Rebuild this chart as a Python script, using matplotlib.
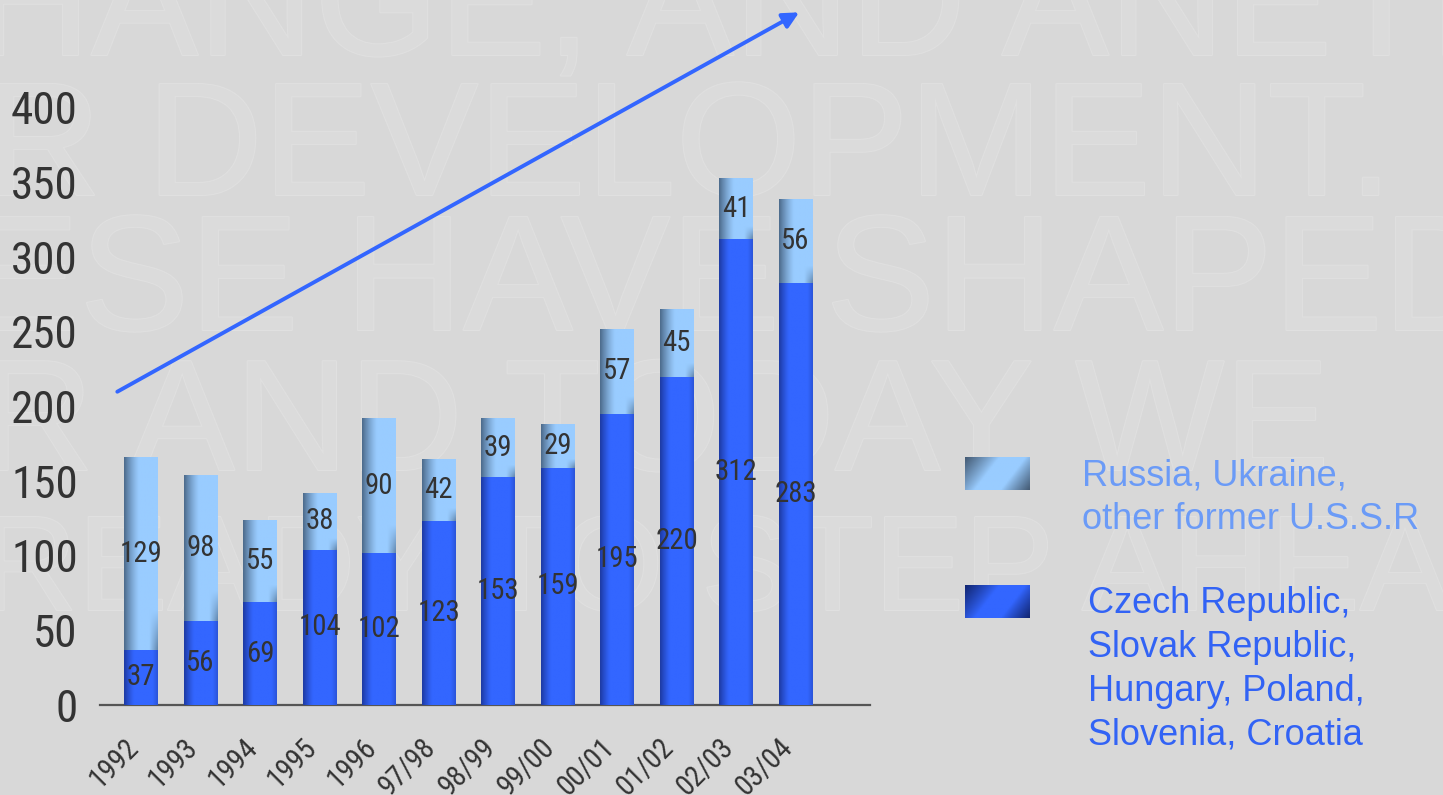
import numpy as np
import matplotlib
matplotlib.use("Agg")
import matplotlib.pyplot as plt
import matplotlib.patheffects as pe
from matplotlib import font_manager
from matplotlib.textpath import TextPath
from matplotlib.font_manager import FontProperties
from matplotlib.transforms import ScaledTranslation

# ---------------- data ----------------
categories = ["1992", "1993", "1994", "1995", "1996", "97/98", "98/99",
              "99/00", "00/01", "01/02", "02/03", "03/04"]
central_europe = [37, 56, 69, 104, 102, 123, 153, 159, 195, 220, 312, 283]
former_ussr = [129, 98, 55, 38, 90, 42, 39, 29, 57, 45, 41, 56]
yticks = [0, 50, 100, 150, 200, 250, 300, 350, 400]
legend_ussr = "Russia, Ukraine,\nother former U.S.S.R"
legend_ce = "Czech Republic,\nSlovak Republic,\nHungary, Poland,\nSlovenia, Croatia"
watermark_lines = ["HANGE, AND ANETH", "R DEVELOPMENT.", "ESE HAVE SHAPED",
                   "R AND TODAY WE", "READY TO STEP AHEAD"]

# ---------------- fonts ----------------
REG = "Liberation Sans"
cond_path = None
prefs = ["Liberation Sans Narrow", "Arial Narrow", "Roboto Condensed",
         "Open Sans Condensed", "DejaVu Sans Condensed", "Noto Sans Condensed"]
cands = []
for f in font_manager.fontManager.ttflist:
    nm = f.name
    fn = f.fname.lower()
    is_cond = ("narrow" in nm.lower() or "condensed" in nm.lower()
               or "condensed" in fn or "narrow" in fn
               or str(f.stretch) in ("condensed", "semi-condensed", "extra-condensed"))
    if not is_cond or "mono" in fn or "serif" in fn.replace("sans", ""):
        continue
    if f.weight not in (400, "normal", "regular", "book") or f.style != "normal":
        continue
    rank = next((i for i, p in enumerate(prefs) if p.lower() in nm.lower()
                 or p.lower().replace(" ", "") in fn.replace("-", "")), len(prefs))
    cands.append((rank, f.fname))
if cands:
    cands.sort()
    cond_path = cands[0][1]

def cond_fp(size):
    if cond_path:
        return FontProperties(fname=cond_path, size=size)
    return FontProperties(family=REG, size=size)

def digit_metrics(fp):
    p = fp.copy()
    p.set_size(100)
    w = TextPath((0, 0), "0000000000", size=100, prop=p).get_extents().width / 10 / 100
    h = TextPath((0, 0), "0", size=100, prop=p).get_extents().height / 100
    return w, h

W, H, DPI = 1443, 795, 100
adv_em, h_em = digit_metrics(cond_fp(10))

def fit_size(adv_px, h_px):
    s_w = adv_px / adv_em * 1.06
    s_h = h_px / h_em
    return min(s_w, s_h) * 72 / DPI

FS_Y = fit_size(21.3, 33)
FS_BAR = fit_size(13.7, 21)
FS_X = fit_size(13.9, 21)

BG = "#d8d8d8"
fig = plt.figure(figsize=(W / DPI, H / DPI), dpi=DPI, facecolor=BG)

# ---------------- background watermark (pixel coordinates) ----------------
bg = fig.add_axes([0, 0, 1, 1], zorder=0)
bg.set_xlim(0, W)
bg.set_ylim(H, 0)
bg.axis("off")
wm_layout = [(-25, 1520, 55), (-15, 1365, 195), (-30, 1480, 330),
             (-20, 1310, 470), (-20, 1530, 610)]
for txt, (xl, xr, base) in zip(watermark_lines, wm_layout):
    fp = FontProperties(family=REG, size=100)
    ext = TextPath((0, 0), txt, size=100, prop=fp).get_extents()
    em_px = min((xr - xl) / ext.width * 100, 125 / 0.72)
    fp.set_size(em_px * 72 / DPI)
    bg.text(xl, base, txt, fontproperties=fp, color="#dbdbdb", ha="left", va="baseline",
            path_effects=[pe.Stroke(linewidth=1.5, foreground="#e0e0e0"), pe.Normal()])

# ---------------- main axes ----------------
ax = fig.add_axes([100 / W, (H - 705) / H, (870 - 100) / W, (705 - 108) / H], zorder=1)
ax.set_facecolor("none")
x = np.arange(len(categories))
bw = 0.57

def grad_top(n=60):
    u = np.linspace(0, 1, n)[None, :]
    v = np.linspace(0, 1, n)[:, None]  # 0 bottom .. 1 top (origin lower)
    light = np.array([0.60, 0.80, 1.0])
    dark = np.array([0.30, 0.42, 0.55])
    t = np.clip(u / 0.45, 0, 1)
    w = (1 - t) ** 1.3
    corner = np.clip((u - 0.75) / 0.25, 0, 1) * np.clip((0.2 - v) / 0.2, 0, 1) * 0.7
    w = np.clip(w + corner, 0, 1)
    return light[None, None, :] * (1 - w[..., None]) + dark[None, None, :] * w[..., None]

def grad_bottom(n=60):
    u = np.linspace(0, 1, n)[None, :]
    v = np.linspace(0, 1, n)[:, None]
    base = np.array([0.20, 0.40, 1.0])
    dark = np.array([0.10, 0.20, 0.58])
    w = np.clip((0.3 - u) / 0.3, 0, 1) ** 1.2 * 0.85 + np.clip((u - 0.85) / 0.15, 0, 1) * 0.35
    w = w + 0.0 * v
    return base[None, None, :] * (1 - w[..., None]) + dark[None, None, :] * w[..., None]

b1 = ax.bar(x, central_europe, bw, color="#3366ff", zorder=2)
b2 = ax.bar(x, former_ussr, bw, bottom=central_europe, color="#99ccff", zorder=2)
gb, gt = grad_bottom(), grad_top()
for bars, g in ((b1, gb), (b2, gt)):
    for r in bars:
        im = ax.imshow(g, extent=[r.get_x(), r.get_x() + r.get_width(), r.get_y(),
                                  r.get_y() + r.get_height()],
                       origin="lower", aspect="auto", interpolation="bilinear", zorder=3)
        im.set_clip_path(r)

for i in range(len(categories)):
    ax.text(x[i], central_europe[i] / 2, str(central_europe[i]), ha="center", va="center",
            fontproperties=cond_fp(FS_BAR), color="#333333", zorder=5)
    ax.text(x[i], central_europe[i] + former_ussr[i] / 2, str(former_ussr[i]),
            ha="center", va="center", fontproperties=cond_fp(FS_BAR), color="#333333", zorder=5)

ax.set_xlim(-0.69, 12.25)
ax.set_ylim(0, 400)
for s in ("left", "right", "top"):
    ax.spines[s].set_visible(False)
ax.spines["bottom"].set_color("#555555")
ax.spines["bottom"].set_linewidth(1.6)
ax.set_yticks(yticks)
ax.set_yticklabels([str(v) for v in yticks])
for lab in ax.get_yticklabels():
    lab.set_fontproperties(cond_fp(FS_Y))
    lab.set_color("#333333")
ax.tick_params(axis="y", length=0, pad=16)
ax.set_xticks(x)
ax.set_xticklabels(categories, rotation=45, ha="right", va="center", rotation_mode="anchor")
ax.tick_params(axis="x", length=0, pad=0)
off = ScaledTranslation(-7 / DPI, -38 / DPI, fig.dpi_scale_trans)
for lab in ax.get_xticklabels():
    lab.set_fontproperties(cond_fp(FS_X))
    lab.set_color("#333333")
    lab.set_transform(lab.get_transform() + off)

# trend arrow
ax.annotate("", xy=(11.1, 465), xytext=(-0.44, 209),
            arrowprops=dict(arrowstyle="-|>", color="#3366ff", lw=2.8, mutation_scale=24),
            annotation_clip=False, zorder=6)

# ---------------- legend (pixel coords) ----------------
lax = fig.add_axes([0, 0, 1, 1], zorder=2)
lax.axis("off")

def sq_grad(c_dark, c_light, n=40):
    u = np.linspace(0, 1, n)[None, :]
    v = np.linspace(0, 1, n)[:, None]   # row 0 = top
    d = 0.72 * u + 0.28 * v
    w = np.clip((0.38 - d) / 0.38, 0, 1) ** 0.9 + np.clip((d - 0.68) / 0.32, 0, 1) ** 0.9
    w = np.clip(w, 0, 1)
    cd, cl = np.array(c_dark), np.array(c_light)
    return cl[None, None, :] * (1 - w[..., None]) + cd[None, None, :] * w[..., None]

for (y0, y1), (cd, cl) in (((457, 490), ((0.27, 0.36, 0.46), (0.60, 0.80, 1.0))),
                           ((585, 618), ((0.07, 0.15, 0.45), (0.20, 0.40, 1.0)))):
    lax.imshow(sq_grad(cd, cl), extent=[965, 1030, H - y1, H - y0], origin="upper",
               aspect="auto", interpolation="bilinear")
lax.set_xlim(0, W)
lax.set_ylim(0, H)
lax.text(1082, H - 458, legend_ussr, fontsize=26, family=REG, color="#6b9bf7",
         va="top", ha="left", linespacing=1.33)
lax.text(1088, H - 586, legend_ce, fontsize=26, family=REG, color="#3263f5",
         va="top", ha="left", linespacing=1.33)

fig.savefig("out.png", dpi=DPI, facecolor=BG)
